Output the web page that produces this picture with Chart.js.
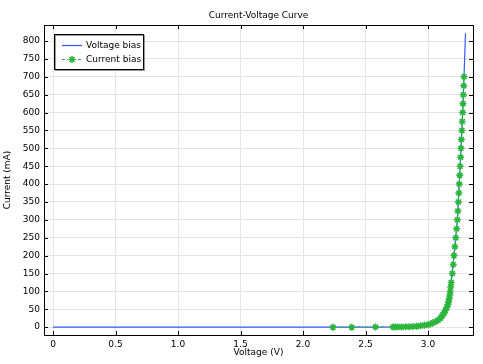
<!DOCTYPE html>
<html>
<head>
<meta charset="utf-8">
<script src="https://cdn.jsdelivr.net/npm/chart.js@4/dist/chart.umd.min.js"></script>
<style>
    html, body { margin: 0; padding: 0; background: white; }
    #wrap { width: 483px; height: 364px; }
</style>
</head>
<body>
<div id="wrap"><canvas id="ivCurve"></canvas></div>
<script>
// voltage bias sweep (V, mA)
const voltageBiasV = [0, 0.5, 1, 1.5, 2, 2.2, 2.4, 2.6, 2.7, 2.8, 2.9, 2.95, 3.0, 3.05, 3.1, 3.15, 3.176, 3.208, 3.235, 3.25, 3.264, 3.277, 3.288, 3.30];
const voltageBiasI = [0, 0, 0, 0, 0, 0, 0.05, 0.2, 0.4, 1, 2.5, 4, 7, 13, 27, 58, 100, 200, 300, 400, 500, 600, 700, 822];

// current bias sweep (V, mA)
const currentBiasV = [2.24, 2.39, 2.58, 2.72, 2.74, 2.76, 2.79, 2.82, 2.85, 2.88, 2.91, 2.94, 2.97, 3.00, 3.02, 3.04, 3.06, 3.08, 3.10, 3.11, 3.12, 3.13, 3.14, 3.15, 3.16, 3.165, 3.17, 3.175, 3.178, 3.182, 3.186,
    3.195, 3.202, 3.208, 3.215, 3.222, 3.229, 3.235, 3.239, 3.243, 3.247, 3.25, 3.254, 3.257, 3.261, 3.264, 3.267, 3.271, 3.274, 3.277, 3.28, 3.283, 3.286, 3.288];
const currentBiasI = [0, 0, 0.1, 0.3, 0.4, 0.5, 0.7, 1, 1.4, 2, 2.8, 3.8, 5, 7, 9, 12, 15, 19, 25, 30, 35, 40, 47, 55, 63, 72, 80, 90, 100, 112, 125,
    150, 175, 200, 225, 250, 275, 300, 325, 350, 375, 400, 425, 450, 475, 500, 525, 550, 575, 600, 625, 650, 675, 700];

const blue = "#3358f5", green = "#2cb53c";
const font = "'DejaVu Sans'";

function pairs(xs, ys) {
    return xs.map((x, i) => ({x: x, y: ys[i]}));
}

const frameAndLegend = {
    id: "frameAndLegend",
    afterDraw(chart) {
        const ctx = chart.ctx, a = chart.chartArea;
        const xs = chart.scales.x, ys = chart.scales.y;
        ctx.save();
        ctx.strokeStyle = "black";
        ctx.lineWidth = 1;
        // inward tick marks on all sides
        ctx.beginPath();
        xs.ticks.forEach(t => {
            const p = Math.round(xs.getPixelForValue(t.value)) + 0.5;
            ctx.moveTo(p, a.bottom); ctx.lineTo(p, a.bottom - 4);
            ctx.moveTo(p, a.top); ctx.lineTo(p, a.top + 4);
        });
        ys.ticks.forEach(t => {
            const p = Math.round(ys.getPixelForValue(t.value)) + 0.5;
            ctx.moveTo(a.left, p); ctx.lineTo(a.left + 4, p);
            ctx.moveTo(a.right, p); ctx.lineTo(a.right - 4, p);
        });
        ctx.stroke();
        ctx.strokeRect(Math.round(a.left) + 0.5, Math.round(a.top) + 0.5, Math.round(a.right - a.left), Math.round(a.bottom - a.top));

        // title, centred over the plot
        ctx.fillStyle = "black";
        ctx.font = "9px " + font;
        ctx.textAlign = "center";
        ctx.textBaseline = "middle";
        ctx.fillText("Current-Voltage Curve", (a.left + a.right) / 2, 16);

        // legend box
        const bx = 54.5, by = 34.5, bw = 89, bh = 35;
        ctx.fillStyle = "white";
        ctx.fillRect(bx, by, bw, bh);
        ctx.strokeStyle = "#999";
        ctx.strokeRect(bx + 1, by + 1, bw, bh);
        ctx.strokeStyle = "black";
        ctx.strokeRect(bx, by, bw, bh);

        ctx.lineWidth = 1.2;
        ctx.strokeStyle = blue;
        ctx.beginPath(); ctx.moveTo(62, 45.5); ctx.lineTo(82, 45.5); ctx.stroke();
        ctx.strokeStyle = green;
        ctx.setLineDash([3, 2, 1, 2]);
        ctx.beginPath(); ctx.moveTo(62, 59.5); ctx.lineTo(82, 59.5); ctx.stroke();
        ctx.setLineDash([]);
        ctx.lineWidth = 1.5;
        ctx.strokeStyle = green;
        ctx.fillStyle = green;
        Chart.helpers.drawPoint(ctx, {pointStyle: "star", radius: 3.5, borderWidth: 1.5}, 72, 59.5);

        ctx.fillStyle = "black";
        ctx.textAlign = "left";
        ctx.fillText("Voltage bias", 86, 45.5);
        ctx.fillText("Current bias", 86, 59.5);
        ctx.restore();
    }
};

new Chart("ivCurve", {
    type: "scatter",
    data: {
        datasets: [{
            label: "Current bias",
            data: pairs(currentBiasV, currentBiasI),
            showLine: true,
            borderColor: green,
            backgroundColor: green,
            borderWidth: 1,
            borderDash: [3, 2, 1, 2],
            pointStyle: "star",
            pointRadius: 3.5,
            pointBorderWidth: 1.5,
            pointBorderColor: green,
            order: 0
        }, {
            label: "Voltage bias",
            data: pairs(voltageBiasV, voltageBiasI),
            showLine: true,
            borderColor: blue,
            backgroundColor: blue,
            borderWidth: 1.2,
            pointRadius: 0,
            order: 1
        }]
    },
    options: {
        responsive: true,
        maintainAspectRatio: false,
        animation: false,
        layout: {
            padding: {left: 2, right: 10, top: 25, bottom: 6}
        },
        plugins: {
            legend: {
                display: false
            },
            tooltip: {
                enabled: false
            },
            title: {
                display: false
            }
        },
        scales: {
            x: {
                type: "linear",
                min: -0.072,
                max: 3.36,
                afterFit: (scale) => { scale.height = 23; },
                ticks: {
                    stepSize: 0.5,
                    includeBounds: false,
                    color: "black",
                    maxRotation: 0,
                    padding: 4,
                    font: {family: font, size: 9}
                },
                grid: {
                    color: "#e4e4e4",
                    drawTicks: false
                },
                border: {
                    color: "black"
                },
                title: {
                    display: true,
                    text: "Voltage (V)",
                    color: "black",
                    padding: {top: 0, bottom: 0},
                    font: {family: font, size: 9}
                }
            },
            y: {
                type: "linear",
                min: -22,
                max: 845,
                afterFit: (scale) => { scale.width = 42; },
                ticks: {
                    stepSize: 50,
                    includeBounds: false,
                    color: "black",
                    padding: 4,
                    font: {family: font, size: 9}
                },
                grid: {
                    color: "#e4e4e4",
                    drawTicks: false
                },
                border: {
                    color: "black"
                },
                title: {
                    display: true,
                    text: "Current (mA)",
                    color: "black",
                    padding: {top: 0, bottom: 2},
                    font: {family: font, size: 9}
                }
            }
        }
    },
    plugins: [frameAndLegend]
});
</script>
</body>
</html>
